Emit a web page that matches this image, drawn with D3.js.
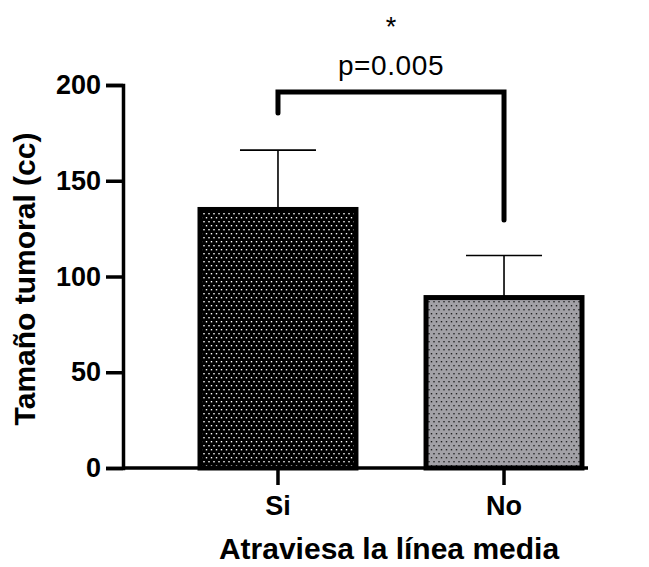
<!DOCTYPE html>
<html>
<head>
<meta charset="utf-8">
<script src="https://cdn.jsdelivr.net/npm/d3@7"></script>
<style>
  body { margin: 0; background: #fff; }
  text { font-family: "Liberation Sans", Arial, sans-serif; }
</style>
</head>
<body>
<svg id="chart" width="649" height="567"></svg>
<script>
  const CATEGORIES = ['Si', 'No'];
  const MEANS = [135, 89];
  const ERR_TOP = [166, 111];
  const Y_TICKS = [0, 50, 100, 150, 200];
  const P_LABEL = 'p=0.005';
  const STAR = '*';

  let svg = d3.select('#chart'),
    plotLeft = 123,
    plotRight = 588,
    plotTop = 85,
    plotBottom = 468;

  let x = d3.scaleBand()
    .domain(CATEGORIES)
    .range([200, 582])
    .paddingInner(0.31)
    .paddingOuter(0);

  let y = d3.scaleLinear()
    .domain([0, 200])
    .range([plotBottom, plotTop]);

  /*
   * patterns
   */
  let defs = svg.append('defs');
  function dotPattern(id, bg, dot) {
    let p = defs.append('pattern')
      .attr('id', id)
      .attr('patternUnits', 'userSpaceOnUse')
      .attr('width', 5).attr('height', 8);
    p.append('rect').attr('width', 5).attr('height', 8).attr('fill', bg);
    p.append('rect').attr('x', 0.8).attr('y', 1).attr('width', 1.4).attr('height', 1.4).attr('fill', dot);
    p.append('rect').attr('x', 3.3).attr('y', 5).attr('width', 1.4).attr('height', 1.4).attr('fill', dot);
  }
  dotPattern('dotsDark', '#000', '#fff');
  dotPattern('dotsGrey', '#a2a1a6', '#222');

  let fills = ['url(#dotsDark)', 'url(#dotsGrey)'];

  /*
   * error bars (drawn first, bars cover the lower half)
   */
  let centers = CATEGORIES.map(function (c) { return x(c) + x.bandwidth() / 2; });

  svg.selectAll('.err')
    .data(CATEGORIES)
    .enter()
    .append('path')
    .attr('class', 'err')
    .attr('d', function (d, i) {
      let cx = centers[i];
      return 'M' + cx + ',' + y(MEANS[i]) + 'V' + y(ERR_TOP[i]) +
        'M' + (cx - 38) + ',' + y(ERR_TOP[i]) + 'H' + (cx + 38);
    })
    .attr('stroke', '#000')
    .attr('stroke-width', 1.6)
    .attr('fill', 'none');

  /*
   * bars
   */
  svg.selectAll('.bar')
    .data(CATEGORIES)
    .enter()
    .append('rect')
    .attr('class', 'bar')
    .attr('x', function (d) { return x(d); })
    .attr('y', function (d, i) { return y(MEANS[i]); })
    .attr('width', x.bandwidth())
    .attr('height', function (d, i) { return plotBottom - y(MEANS[i]); })
    .attr('fill', function (d, i) { return fills[i]; })
    .attr('stroke', '#000')
    .attr('stroke-width', 5);

  /*
   * axes
   */
  let yAxis = svg.append('g')
    .attr('transform', 'translate(' + plotLeft + ',0)')
    .call(d3.axisLeft(y).tickValues(Y_TICKS).tickSize(17).tickPadding(5));
  yAxis.select('.domain').attr('stroke-width', 3.5);
  yAxis.selectAll('.tick line').attr('stroke-width', 3.5);
  yAxis.selectAll('.tick text')
    .attr('font-size', 27)
    .attr('font-weight', 'bold')
    .attr('fill', '#000')
    .attr('font-family', '"Liberation Sans", Arial, sans-serif');

  let xAxis = svg.append('g')
    .attr('transform', 'translate(0,' + plotBottom + ')')
    .call(d3.axisBottom(x).tickSize(17).tickPadding(11).tickSizeOuter(0));
  xAxis.select('.domain').attr('d', 'M' + plotLeft + ',0H' + plotRight).attr('stroke-width', 3.5);
  xAxis.selectAll('.tick line').attr('stroke-width', 3.5);
  xAxis.selectAll('.tick text')
    .attr('font-size', 27)
    .attr('font-weight', 'bold')
    .attr('fill', '#000')
    .attr('font-family', '"Liberation Sans", Arial, sans-serif');

  /*
   * titles
   */
  svg.append('text')
    .attr('x', 389)
    .attr('y', 559)
    .attr('text-anchor', 'middle')
    .attr('font-size', 30)
    .attr('font-weight', 'bold')
    .text('Atraviesa la línea media');

  svg.append('text')
    .attr('transform', 'translate(35,279) rotate(-90)')
    .attr('text-anchor', 'middle')
    .attr('font-size', 30)
    .attr('font-weight', 'bold')
    .text('Tamaño tumoral (cc)');

  /*
   * significance bracket
   */
  let bracketY = 92;
  svg.append('path')
    .attr('d', 'M' + centers[0] + ',113V' + bracketY + 'H' + centers[1] + 'V220')
    .attr('stroke', '#000')
    .attr('stroke-width', 5)
    .attr('stroke-linecap', 'round')
    .attr('stroke-linejoin', 'miter')
    .attr('fill', 'none');

  let mid = 391;
  svg.append('text')
    .attr('x', mid)
    .attr('y', 75)
    .attr('text-anchor', 'middle')
    .attr('font-size', 28)
    .attr('letter-spacing', 0.6)
    .text(P_LABEL);

  svg.append('text')
    .attr('x', mid)
    .attr('y', 36)
    .attr('text-anchor', 'middle')
    .attr('font-size', 27)
    .text(STAR);
</script>
</body>
</html>
